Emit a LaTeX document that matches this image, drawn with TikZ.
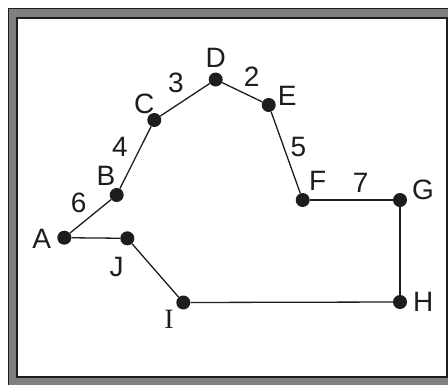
\documentclass[tikz,border=0pt]{standalone}
\usepackage{fontspec}
\setmainfont{Liberation Sans}
\newfontfamily\serifname{Liberation Serif}
\usepackage{xcolor}
\usepackage{tikz}
\usetikzlibrary{positioning}
\definecolor{frameclr}{RGB}{128,128,131}
\definecolor{inkclr}{RGB}{30,28,30}
\tikzset{
  vtx/.style={circle,fill=inkclr,inner sep=0pt,minimum size=14pt},
  vname/.style={inner sep=0pt,text=inkclr,font=\fontsize{28}{30}\selectfont},
  wlabel/.style={vname},
  road/.style={draw=inkclr,line width=1.3pt},
}

\begin{document}
\begin{tikzpicture}[x=1pt,y=-1pt]
\useasboundingbox (0,0) rectangle (448,384);
% frame
\begin{scope}
\clip (0,0) rectangle (448,384);
\draw[fill=frameclr, draw=inkclr, line width=1pt] (8.5,8.5) rectangle (470,400);
\draw[fill=white, draw=inkclr, line width=2pt] (17,18) rectangle (447,377);
\end{scope}
% vertices
\node[vtx] (A) at (64.3,237.7) {};
\node[vtx] (B) at (116.7,195)  {};
\node[vtx] (C) at (154.3,120)  {};
\node[vtx] (D) at (215.7,79.5) {};
\node[vtx] (E) at (268.7,105)  {};
\node[vtx] (F) at (302.7,200)  {};
\node[vtx] (G) at (400,200)    {};
\node[vtx] (H) at (400,302)    {};
\node[vtx] (I) at (183.3,302.5){};
\node[vtx] (J) at (127.3,238.3){};
% names
\node[vname] (nA) at (41.7,239)  {A};
\node[vname] (nB) at (106,175.7) {B};
\node[vname] (nC) at (144.3,104) {C};
\node[vname] (nD) at (215.7,58.3){D};
\node[vname] (nE) at (287.3,95.7){E};
\node[vname] (nF) at (317.7,180.7){F};
\node[vname] (nG) at (423,190)   {G};
\node[vname] (nH) at (423.3,302) {H};
\node[vname,font=\serifname\fontsize{28}{30}\selectfont] (nI) at (169,319.3) {I};
\node[vname] (nJ) at (116.7,266.7){J};
% distances
\node[wlabel] (w6) at (78.7,203.3) {6};
\node[wlabel] (w4) at (120,146.7)  {4};
\node[wlabel] (w3) at (176,83.3)   {3};
\node[wlabel] (w2) at (251.7,76.7) {2};
\node[wlabel] (w5) at (298.3,147.3){5};
\node[wlabel] (w7) at (360.7,183.3){7};
% roads
\draw[road] (A) -- (B);
\draw[road] (B) -- (C);
\draw[road] (C) -- (D);
\draw[road] (D) -- (E);
\draw[road] (E) -- (F);
\draw[road] (F) -- (G);
\draw[road] (G) -- (H);
\draw[road] (H) -- (I);
\draw[road] (I) -- (J);
\draw[road] (J) -- (A);
\end{tikzpicture}
\end{document}
